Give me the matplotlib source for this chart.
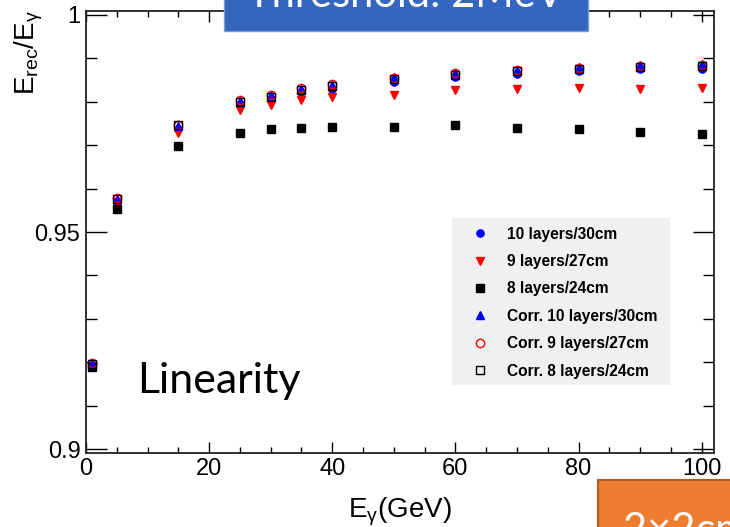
import matplotlib
matplotlib.use("Agg")
import matplotlib.pyplot as plt
from matplotlib.patches import Rectangle
from matplotlib.ticker import MultipleLocator

# ---- data ----
energy = [1, 5, 15, 25, 30, 35, 40, 50, 60, 70, 80, 90, 100]
l10 = [0.9193, 0.9570, 0.9738, 0.9796, 0.9807, 0.9822, 0.9830, 0.9845, 0.9857, 0.9865, 0.9871, 0.9875, 0.9876]
l9 = [0.9192, 0.9568, 0.9729, 0.9781, 0.9793, 0.9804, 0.9810, 0.9816, 0.9827, 0.9829, 0.9831, 0.9829, 0.9831]
l8 = [0.9190, 0.9552, 0.9698, 0.9727, 0.9737, 0.9740, 0.9743, 0.9743, 0.9747, 0.9740, 0.9738, 0.9730, 0.9725]
c10 = [0.9196, 0.9575, 0.9745, 0.9802, 0.9815, 0.9829, 0.9838, 0.9856, 0.9866, 0.9874, 0.9880, 0.9884, 0.9888]
c9 = [0.9198, 0.9578, 0.9747, 0.9803, 0.9815, 0.9831, 0.9840, 0.9855, 0.9866, 0.9873, 0.9878, 0.9883, 0.9885]
c8 = [0.9197, 0.9577, 0.9746, 0.9800, 0.9812, 0.9828, 0.9837, 0.9852, 0.9862, 0.9870, 0.9876, 0.9880, 0.9882]
labels = ["10 layers/30cm", "9 layers/27cm", "8 layers/24cm",
          "Corr. 10 layers/30cm", "Corr. 9 layers/27cm", "Corr. 8 layers/24cm"]
xticks = [0, 20, 40, 60, 80, 100]
yticks = [0.9, 0.95, 1.0]
ytick_labels = ["0.9", "0.95", "1"]

W, H = 730, 527
plt.rcParams['font.family'] = ['Liberation Sans', 'DejaVu Sans']
plt.rcParams['mathtext.fontset'] = 'custom'
plt.rcParams['mathtext.rm'] = 'Liberation Sans'

def fx(px):
    return px / W

def fy(py):
    return 1 - py / H

fig = plt.figure(figsize=(W / 100, H / 100), dpi=100)
ax = fig.add_axes([fx(86), fy(452.7), (714 - 86) / W, (452.7 - 11) / H])

ax.plot(energy, l10, 'o', color='#0000ff', ms=5.2, mec='#0000ff', label=labels[0], zorder=3)
ax.plot(energy, l9, 'v', color='#ff0000', ms=6.0, mec='#ff0000', label=labels[1], zorder=3)
ax.plot(energy, l8, 's', color='black', ms=5.3, label=labels[2], zorder=3)
ax.plot(energy, c10, '^', color='#0000ff', ms=5.2, mec='#0000ff', label=labels[3], zorder=4)
ax.plot(energy, c9, 'o', mfc='none', mec='#ff0000', mew=1.0, ms=6.0, label=labels[4], zorder=4)
ax.plot(energy, c8, 's', mfc='none', mec='black', mew=1.0, ms=5.6, label=labels[5], zorder=4)

ax.set_xlim(0, 102)
ax.set_ylim(0.89915, 1.00092)
ax.set_xticks(xticks)
ax.set_yticks(yticks)
ax.set_yticklabels(ytick_labels)
ax.xaxis.set_minor_locator(MultipleLocator(5))
ax.yaxis.set_minor_locator(MultipleLocator(0.01))
ax.tick_params(axis='both', which='both', direction='in', top=True, right=True,
               labelsize=17, color='black')
ax.tick_params(axis='x', which='major', length=8, width=1.0, pad=4)
ax.tick_params(axis='x', which='minor', length=4.3, width=1.0)
ax.tick_params(axis='y', which='major', length=15, width=1.0, pad=4)
ax.tick_params(axis='y', which='minor', length=8, width=1.0)
for s in ax.spines.values():
    s.set_linewidth(1.3)
    s.set_color('#222222')

# legend background
ax.add_patch(Rectangle((fx(452), fy(385)), (670 - 452) / W, (385 - 218) / H,
                       transform=fig.transFigure, facecolor='#f0f0f0',
                       edgecolor='none', zorder=4.5))
leg = ax.legend(loc='upper left', bbox_to_anchor=(fx(452), fy(218)),
                bbox_transform=fig.transFigure, frameon=False,
                prop={'family': 'Liberation Sans', 'weight': 'bold', 'size': 11.2},
                borderpad=0.55, handlelength=2.48, handletextpad=0.52,
                labelspacing=0.8, numpoints=1, borderaxespad=0)
leg.set_zorder(5)

# axis labels
fig.text(fx(29), fy(10), r'E$_{\mathregular{rec}}$/E$_{\mathregular{\gamma}}$',
         rotation=90, ha='center', va='top', fontsize=20)
fig.text(fx(400), fy(517), r'E$_{\mathregular{\gamma}}$(GeV)', ha='center',
         va='baseline', fontsize=20)

# annotation
fig.text(fx(137), fy(393), 'Linearity', family='Lato', fontsize=31,
         ha='left', va='baseline', color='black')

# top blue box
fig.add_artist(Rectangle((fx(224), fy(31)), (588 - 224) / W, 40 / H,
                         transform=fig.transFigure, facecolor='#3466c0',
                         edgecolor='#7a9ad8', linewidth=1.0, zorder=10))
fig.text(fx(405), fy(7), 'Threshold: 2MeV', family='Lato', fontsize=30,
         color='white', ha='center', va='baseline', zorder=11)

# bottom orange box
fig.add_artist(Rectangle((fx(598), fy(540)), 150 / W, (540 - 480) / H,
                         transform=fig.transFigure, facecolor='#ed7d31',
                         edgecolor='#b05a20', linewidth=1.5, zorder=10))
fig.text(fx(623), fy(543), '2×2cm', family='Lato', fontsize=30,
         color='white', ha='left', va='baseline', zorder=11)

fig.savefig('out.png', dpi=100)
